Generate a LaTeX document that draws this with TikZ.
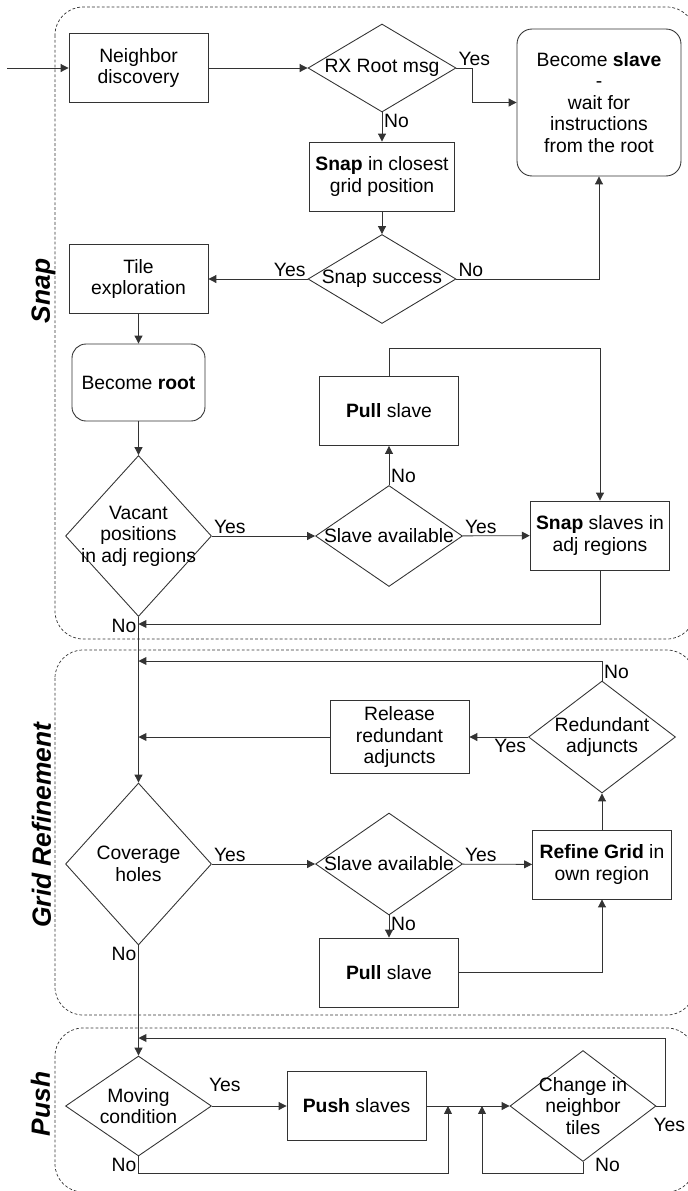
\documentclass[tikz,border=0pt]{standalone}
\usepackage{fontspec}
\setmainfont{Liberation Sans}
\usetikzlibrary{shapes.geometric,arrows.meta,calc}

\begin{document}
\begin{tikzpicture}[x=0.02cm,y=-0.02cm,
    every node/.style={font=\fontsize{11}{12.2}\selectfont},
    conn/.style={draw=black!80, line width=0.5pt},
    arr/.style={conn, -{Triangle[length=4.5pt,width=4.5pt]}},
    box/.style={conn, rectangle, align=center, minimum width=2.78cm, minimum height=1.38cm},
    rbox/.style={box, rounded corners=0.28cm},
    dia/.style n args={3}{conn, diamond, inner sep=0pt, minimum width=#1, minimum height=#2,
      label={[align=center]center:#3}},
    lbl/.style={inner sep=1pt},
    phase/.style={draw=black!80, line width=0.4pt, dash pattern=on 1.6pt off 1.2pt, rounded corners=0.56cm},
    phasename/.style={rotate=90, anchor=base, font=\fontsize{15}{17}\selectfont\bfseries\itshape}]
    \useasboundingbox (0,0) rectangle (688,1191);
    \draw[phase] (55,7) rectangle (695,639);
    \draw[phase] (55,650) rectangle (695,1015);
    \draw[phase] (55,1028) rectangle (695,1192);
    \node[phasename] (snaplbl) at (50,291) {Snap};
    \node[phasename] (gridlbl) at (51,825) {Grid Refinement};
    \node[phasename] (pushlbl) at (50,1104) {Push};
    \node[box] (nbr) at (138.5,68) {Neighbor\\discovery};
    \node[dia={2.96cm}{1.76cm}{RX Root msg}] (rxroot) at (382,68) {};
    \node[rbox, minimum width=3.28cm, minimum height=2.94cm, rounded corners=0.3cm] (slave) at (599,102.5)
      {Become \textbf{slave}\\-\\wait for\\instructions\\from the root};
    \node[box] (snapgrid) at (382,176.5) {\textbf{Snap} in closest\\grid position};
    \node[dia={2.96cm}{1.78cm}{Snap success}] (snapok) at (382,279) {};
    \node[box] (tile) at (138.5,279) {Tile\\exploration};
    \node[rbox, minimum width=2.66cm, minimum height=1.54cm] (root) at (138.5,382.5) {Become \textbf{root}};
    \node[dia={2.92cm}{3.22cm}{Vacant\\positions\\in adj regions}] (vacant) at (138.5,536) {};
    \node[dia={2.94cm}{2.02cm}{Slave available}] (avail) at (389,536) {};
    \node[box] (pull) at (389,411) {\textbf{Pull} slave};
    \node[box] (snapadj) at (600,535.5) {\textbf{Snap} slaves in\\adj regions};
    \node[box] (release) at (399.5,737) {Release\\redundant\\adjuncts};
    \node[dia={2.94cm}{2.24cm}{Redundant\\adjuncts}] (redund) at (602,737) {};
    \node[dia={2.92cm}{3.24cm}{Coverage\\holes}] (cover) at (138.5,864) {};
    \node[dia={2.94cm}{2.04cm}{Slave available}] (avail2) at (389,864) {};
    \node[box] (refine) at (602,864.5) {\textbf{Refine Grid} in\\own region};
    \node[box] (pull2) at (389,972.5) {\textbf{Pull} slave};
    \node[dia={2.92cm}{2.00cm}{Moving\\condition}] (moving) at (138.5,1106) {};
    \node[box] (push) at (356.5,1106) {\textbf{Push} slaves};
    \node[dia={2.92cm}{2.22cm}{Change in\\neighbor\\tiles}] (change) at (583,1106) {};
    \coordinate (in) at (7,68);
    \coordinate (j1) at (138.5,624);
    \coordinate (j2) at (138.5,661);
    \coordinate (j3) at (138.5,737);
    \coordinate (j4) at (138.5,1038);
    \coordinate (j5) at (448,1106);
    \coordinate (j6) at (482,1106);
    \draw[arr] (in) -- (nbr);
    \draw[arr] (nbr) -- (rxroot);
    \draw[arr] (rxroot.east) -- ++(16,0) |- (slave.west);
    \draw[arr] (rxroot) -- (snapgrid);
    \draw[arr] (snapgrid) -- (snapok);
    \draw[arr] (snapok.east) -| (slave.south);
    \draw[arr] (snapok) -- (tile);
    \draw[arr] (tile) -- (root);
    \draw[arr] (root) -- (vacant);
    \draw[arr] (vacant) -- (avail);
    \draw[arr] (avail) -- (pull);
    \draw[arr] (pull.north) -- ++(0,-28) -| (snapadj.north);
    \draw[arr] (avail) -- (snapadj);
    \draw[arr] (snapadj.south) |- (j1);
    \draw[arr] (vacant.south) -- (cover.north);
    \draw[arr] (redund.north) |- (j2);
    \draw[arr] (release.west) -- (j3);
    \draw[arr] (redund) -- (release);
    \draw[arr] (refine) -- (redund);
    \draw[arr] (cover) -- (avail2);
    \draw[arr] (avail2) -- (refine);
    \draw[arr] (avail2) -- (pull2);
    \draw[arr] (pull2.east) -| (refine.south);
    \draw[arr] (cover.south) -- (moving.north);
    \draw[arr] (change.east) -- ++(9,0) |- (j4);
    \draw[arr] (moving) -- (push);
    \draw[arr] (push) -- (change);
    \draw[arr] (moving.south) -- ++(0,17) -| (j5);
    \draw[arr] (change.south) -- ++(0,11) -| (j6);
    \node[lbl, above right] at (rxroot.east) {Yes};
    \node[lbl, below right] at (rxroot.south) {No};
    \node[lbl, above right] at (snapok.east) {No};
    \node[lbl, above left] at (snapok.west) {Yes};
    \node[lbl, above right] at (vacant.east) {Yes};
    \node[lbl, below left] at (vacant.south) {No};
    \node[lbl, above right] at (avail.north) {No};
    \node[lbl, above right] at (avail.east) {Yes};
    \node[lbl, above right] at (redund.north) {No};
    \node[lbl, below left] at (redund.west) {Yes};
    \node[lbl, above right] at (cover.east) {Yes};
    \node[lbl, below left] at (cover.south) {No};
    \node[lbl, above right] at (avail2.east) {Yes};
    \node[lbl, below right] at (avail2.south) {No};
    \node[lbl, anchor=south west] at ($(moving.east)+(-5,-12)$) {Yes};
    \node[lbl, below left] at (moving.south) {No};
    \node[lbl, anchor=north west] at ($(change.east)+(-5,10)$) {Yes};
    \node[lbl, anchor=west] at ($(change.south)+(10,3)$) {No};
  \end{tikzpicture}
\end{document}
